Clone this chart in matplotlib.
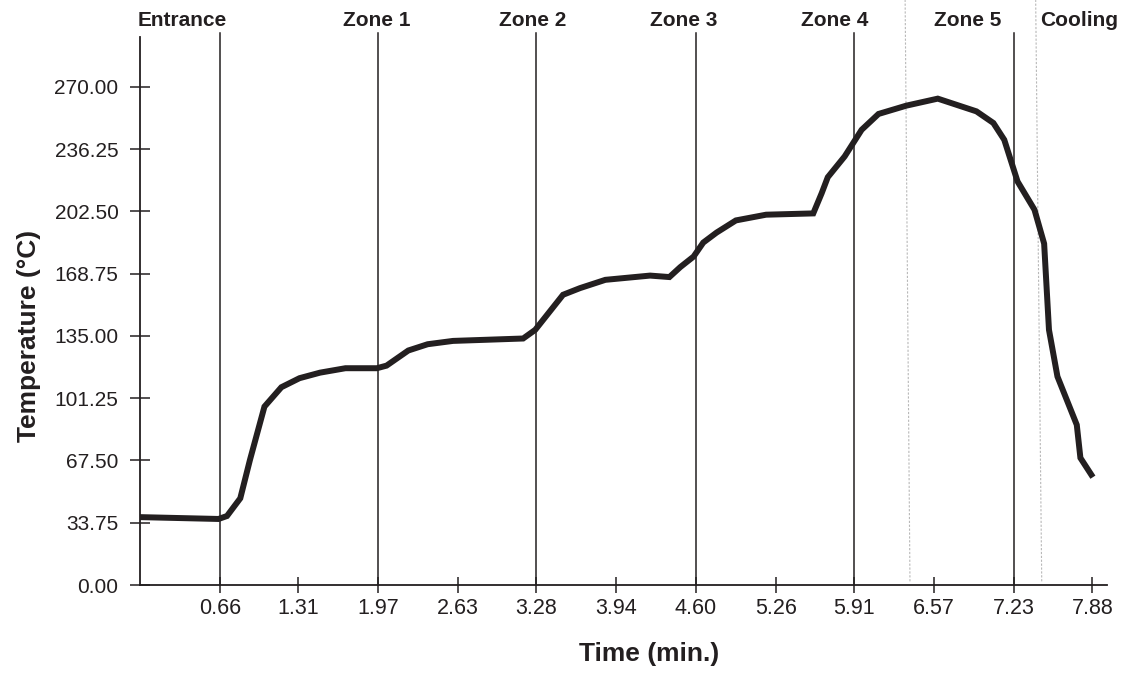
import matplotlib
matplotlib.use("Agg")
import matplotlib.pyplot as plt
import numpy as np

plt.rcParams['font.family'] = ['Liberation Sans', 'DejaVu Sans']

# ---- data ----
time_min = [0.00, 0.65, 0.72, 0.83, 0.91, 1.03, 1.17, 1.32, 1.49, 1.70, 1.96, 2.04,
            2.22, 2.38, 2.59, 3.17, 3.27, 3.50, 3.64, 3.85, 4.22, 4.38, 4.47, 4.58,
            4.66, 4.77, 4.93, 5.18, 5.57, 5.64, 5.69, 5.83, 5.97, 6.11, 6.34, 6.60,
            6.92, 7.06, 7.15, 7.26, 7.40, 7.48, 7.52, 7.59, 7.75, 7.78, 7.87]
temp_c = [36.8, 35.8, 37.4, 47.0, 67.8, 96.7, 107.2, 112.1, 115.1, 117.5, 117.5, 118.9,
          127.1, 130.5, 132.3, 133.6, 138.3, 157.3, 160.9, 165.4, 167.7, 166.9, 172.3, 178.0,
          185.6, 191.0, 197.6, 200.7, 201.4, 212.4, 221.0, 232.3, 246.7, 255.3, 259.8, 263.6,
          256.7, 250.4, 241.3, 218.7, 203.4, 185.0, 138.3, 113.0, 86.8, 68.9, 59.8]

x_ticks = [0.66, 1.31, 1.97, 2.63, 3.28, 3.94, 4.60, 5.26, 5.91, 6.57, 7.23, 7.88]
y_ticks = [0.00, 33.75, 67.50, 101.25, 135.00, 168.75, 202.50, 236.25, 270.00]

zone_boundaries = [0.66, 1.97, 3.28, 4.60, 5.91, 7.23]
zone_names = ["Entrance", "Zone 1", "Zone 2", "Zone 3", "Zone 4", "Zone 5", "Cooling"]
zone_label_x = [0.347, 1.96, 3.25, 4.50, 5.75, 6.85, 7.77]
dotted_top_x = [6.33, 7.41]
dotted_bot_x = [6.37, 7.46]

ink = '#231f20'

fig = plt.figure(figsize=(11.25, 6.79), dpi=100)
ax = fig.add_axes([0.1244, 0.1384, 0.8596, 0.8071])

ax.set_xlim(0, 8.0)
ax.set_ylim(0, 297)

# zone boundary lines
for xb in zone_boundaries:
    ax.plot([xb, xb], [0, 299], color=ink, lw=1.1, clip_on=False, zorder=2)

# dotted grey lines
for xt, xbt in zip(dotted_top_x, dotted_bot_x):
    ax.plot([xbt, xt], [2, 317], color='#b8b8b8', lw=0.8, ls=(0, (2, 1.5)),
            clip_on=False, zorder=1)

# temperature curve
ax.plot(time_min, temp_c, color=ink, lw=4.3, solid_joinstyle='miter', zorder=3)

for name, xl in zip(zone_names, zone_label_x):
    ax.text(xl, 1.031, name, transform=ax.get_xaxis_transform(), ha='center',
            va='center', fontsize=15, fontweight='bold', color=ink, clip_on=False)

for s in ['top', 'right']:
    ax.spines[s].set_visible(False)
for s in ['left', 'bottom']:
    ax.spines[s].set_color(ink)
    ax.spines[s].set_linewidth(1.3)

ax.set_xticks(x_ticks)
ax.set_xticklabels([f"{v:.2f}" for v in x_ticks])
ax.set_yticks(y_ticks)
ax.set_yticklabels([f"{v:.2f}" for v in y_ticks])
ax.tick_params(axis='x', direction='inout', length=11, width=1.1, color=ink,
               labelsize=15.5, labelcolor=ink, pad=4)
ax.tick_params(axis='y', direction='inout', length=15, width=1.1, color=ink,
               labelsize=15, labelcolor=ink, pad=8)

ax.set_xlabel("Time (min.)", fontsize=19, fontweight='bold', color=ink)
ax.xaxis.set_label_coords(0.527, -0.104)
ax.set_ylabel("Temperature (°C)", fontsize=19, fontweight='bold', color=ink)
ax.yaxis.set_label_coords(-0.102, 0.455)

fig.savefig("out.png", dpi=100)
